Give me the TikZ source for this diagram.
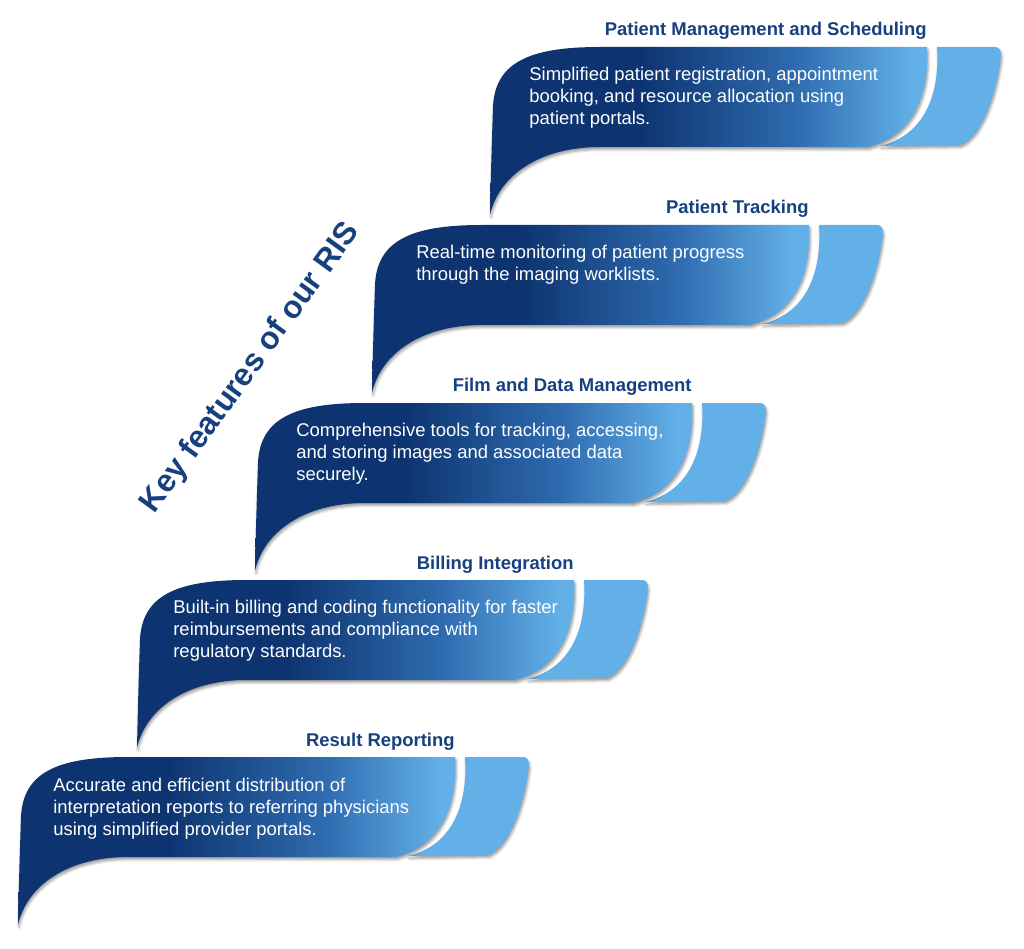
\documentclass[tikz,border=0pt]{standalone}
\usepackage{fontspec}
\setmainfont{Liberation Sans}
\usepackage{tikz}
\usetikzlibrary{shadows.blur,positioning}

\definecolor{rnavy}{HTML}{0D3470}
\definecolor{rmid}{HTML}{2F6CB0}
\definecolor{rlight}{HTML}{63B0E8}
\definecolor{rtitle}{HTML}{17407F}

\pgfdeclarehorizontalshading{ribbonshade}{100bp}{color(0bp)=(rnavy); color(42bp)=(rnavy);
  color(60bp)=(rmid); color(73bp)=(rlight); color(100bp)=(rlight)}

\begin{document}
\begin{tikzpicture}[
  x=0.02cm, y=-0.02cm,
  heading/.style = {anchor=base east, inner sep=0pt, text=rtitle,
                    font=\fontsize{10.5}{12.5}\selectfont\bfseries},
  body/.style = {anchor=north west, inner sep=0pt, align=left, text=white,
                 font=\fontsize{10.5}{12.5}\selectfont},
  keytitle/.style = {rotate=54, inner sep=0pt, text=rtitle,
                     font=\fontsize{18}{21}\selectfont\bfseries},
  ribshadow/.style = {blur shadow={shadow xshift=0.6pt, shadow yshift=-1.4pt,
                      shadow blur radius=1.5pt, shadow opacity=40}},
  ribbon/.pic = {
    % light tail
    \fill[rlight, ribshadow] (447,0) -- (505,0) .. controls (509,0) and (511,3) .. (511,9)
      .. controls (507,45) and (492,90) .. (470,98) -- (390,99)
      .. controls (436,88) and (450,45) .. (447,0) -- cycle;
    % main band
    \shade[shading=ribbonshade, ribshadow] (0,168) .. controls (1,120) and (2,90) .. (3,60)
      .. controls (5,15) and (40,0) .. (110,0) -- (437,0)
      .. controls (440,45) and (425,88) .. (378,100) -- (110,100)
      .. controls (50,100) and (9,128) .. (0,168) -- cycle;
  }
]
\useasboundingbox (0,0) rectangle (1024,949);

% Ribbons, from top to bottom
\pic at (490,47) {ribbon};
\pic at (372,225) {ribbon};
\pic at (255,403) {ribbon};
\pic at (137,580) {ribbon};
\pic at (18,757) {ribbon};

% Headings
\node[heading] (mgmt) at (927,36) {Patient Management and Scheduling};
\node[heading] (track) at (809,214) {Patient Tracking};
\node[heading] (film) at (692,392) {Film and Data Management};
\node[heading] (bill) at (574,569) {Billing Integration};
\node[heading] (result) at (455,746) {Result Reporting};

% Texts inside the ribbons
\node[body] (mgmttext) at (529,67) {Simplified patient registration, appointment\\
  booking, and resource allocation using\\patient portals.};
\node[body] (tracktext) at (416,245) {Real-time monitoring of patient progress\\
  through the imaging worklists.};
\node[body] (filmtext) at (296,423) {Comprehensive tools for tracking, accessing,\\
  and storing images and associated data\\securely.};
\node[body] (billtext) at (173,600) {Built-in billing and coding functionality for faster\\
  reimbursements and compliance with\\regulatory standards.};
\node[body] (resulttext) at (53,778) {Accurate and efficient distribution of\\
  interpretation reports to referring physicians\\using simplified provider portals.};

% Side title
\node[keytitle] (key) at (251,368) {Key features of our RIS};

\end{tikzpicture}
\end{document}
